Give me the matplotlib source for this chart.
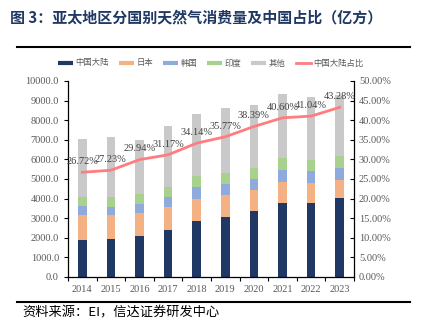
import matplotlib
matplotlib.use("Agg")
import matplotlib.pyplot as plt
from matplotlib.lines import Line2D
from matplotlib.ticker import FuncFormatter, MultipleLocator
import numpy as np

years = ["2014", "2015", "2016", "2017", "2018", "2019", "2020", "2021", "2022", "2023"]
china = [1880, 1945, 2100, 2405, 2840, 3085, 3370, 3800, 3765, 4030]
japan = [1260, 1195, 1150, 1190, 1150, 1095, 1050, 1060, 1010, 940]
korea = [480, 440, 480, 485, 610, 575, 580, 610, 610, 605]
india = [460, 490, 510, 530, 575, 575, 560, 610, 595, 610]
others = [2955, 3070, 2760, 3105, 3145, 3295, 3220, 3280, 3195, 3125]
ratio = [26.72, 27.23, 29.94, 31.17, 34.14, 35.77, 38.39, 40.60, 41.04, 43.28]

series_names = ["中国大陆", "日本", "韩国", "印度", "其他"]
line_name = "中国大陆占比"
colors = ["#1F3864", "#F4B183", "#8FAADC", "#A9D18E", "#C9C9C9"]
line_color = "#FF7C80"
title = "图 3：亚太地区分国别天然气消费量及中国占比（亿方）"
source = "资料来源：EI，信达证券研发中心"

cjk = ["Noto Sans CJK SC", "DejaVu Sans"]
serif = ["Liberation Serif", "DejaVu Serif"]
tick_color = "#595959"

fig = plt.figure(figsize=(4.21, 3.34), dpi=100)
ax = fig.add_axes([0.1615, 0.1707, 0.8409 - 0.1615, 0.7575 - 0.1707])
x = np.arange(len(years))
bottom = np.zeros(len(years))
handles = []
for name, vals, c in zip(series_names, [china, japan, korea, india, others], colors):
    ax.bar(x, vals, width=0.3, bottom=bottom, color=c, zorder=2)
    bottom += np.array(vals)
    handles.append(Line2D([0], [0], color=c, lw=3, solid_capstyle="butt", label=name))

ax.set_xlim(-0.5, len(years) - 0.5)
ax.set_ylim(0, 10000)
ax.yaxis.set_major_locator(MultipleLocator(1000))
ax.yaxis.set_major_formatter(FuncFormatter(lambda v, p: f"{v:.1f}"))
ax.set_xticks(x)
ax.set_xticklabels(years)
ax.set_xticks(np.arange(-0.5, len(years), 1.0), minor=True)
ax.tick_params(axis="x", which="major", length=0, pad=6)
ax.tick_params(axis="x", which="minor", length=3, direction="out", width=0.8)
ax.tick_params(axis="y", length=3, direction="out", width=0.8)
for lab in ax.get_xticklabels() + ax.get_yticklabels():
    lab.set_family(serif)
    lab.set_fontsize(7.5)
    lab.set_color(tick_color)
for s in ["top", "right"]:
    ax.spines[s].set_visible(False)
ax.spines["left"].set_linewidth(0.9)
ax.spines["bottom"].set_linewidth(0.9)

ax2 = ax.twinx()
ax2.plot(x, ratio, color=line_color, lw=2, zorder=3)
ax2.set_ylim(0, 50)
ax2.yaxis.set_major_locator(MultipleLocator(5))
ax2.yaxis.set_major_formatter(FuncFormatter(lambda v, p: f"{v:.2f}%"))
ax2.tick_params(axis="y", length=3, direction="in", width=0.8)
for lab in ax2.get_yticklabels():
    lab.set_family(serif)
    lab.set_fontsize(7.5)
    lab.set_color(tick_color)
for s in ["top", "left", "bottom"]:
    ax2.spines[s].set_visible(False)
ax2.spines["right"].set_linewidth(0.9)
for xi, r in zip(x, ratio):
    ax2.annotate(f"{r:.2f}%", (xi, r), xytext=(0, 4.5), textcoords="offset points",
                 ha="center", va="bottom", fontsize=7.5, family=serif, color="#404040")

handles.append(Line2D([0], [0], color=line_color, lw=2, label=line_name))
leg = fig.legend(handles=handles, loc="center", bbox_to_anchor=(0.5, 1 - 63 / 334), ncol=6,
                 frameon=False, prop={"family": cjk, "size": 6}, handlelength=1.8,
                 handletextpad=0.3, columnspacing=1.2)
for t in leg.get_texts():
    t.set_color(tick_color)

fig.text(10 / 421, 1 - 18 / 334, title, family=cjk, fontsize=10.8, fontweight="bold",
         color="#1F3864", ha="left", va="center")
fig.add_artist(Line2D([17 / 421, 410 / 421], [1 - 47 / 334, 1 - 47 / 334], color="black", lw=1.5))
fig.add_artist(Line2D([17 / 421, 410 / 421], [1 - 302 / 334, 1 - 302 / 334], color="black", lw=1.5))
fig.text(22 / 421, 1 - 313 / 334, source, family=cjk, fontsize=9.5, style="italic",
         color="black", ha="left", va="center")

fig.savefig("out.png", dpi=100)
